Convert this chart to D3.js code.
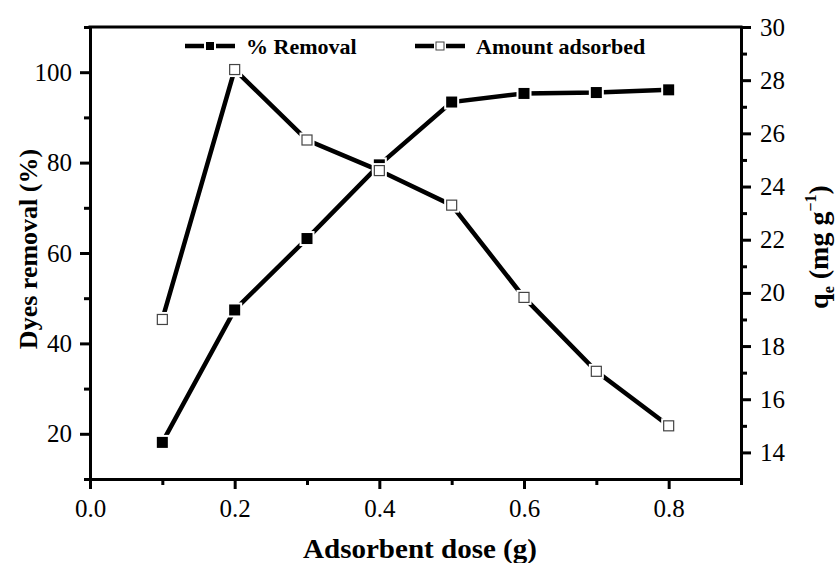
<!DOCTYPE html>
<html>
<head>
<meta charset="utf-8">
<script src="https://cdn.jsdelivr.net/npm/d3@7"></script>
<style>
  body { margin: 0; background: #fff; }
  svg text { font-family: "Times New Roman", "Liberation Serif", "DejaVu Serif", serif; fill: #000; }
  .tick text { font-size: 25px; }
  .title { font-size: 26px; font-weight: bold; }
  .legend text { font-size: 22px; font-weight: bold; }
</style>
</head>
<body>
<svg id="chart"></svg>
<script>
// values
const dose = [0.1, 0.2, 0.3, 0.4, 0.5, 0.6, 0.7, 0.8]
const removal = [18.1, 47.4, 63.2, 79.5, 93.4, 95.3, 95.5, 96.1]
const adsorbed = [19.0, 28.4, 25.75, 24.6, 23.3, 19.83, 17.05, 15.0]

const xTicks = [0.0, 0.2, 0.4, 0.6, 0.8]
const yLeftTicks = [20, 40, 60, 80, 100]
const yRightTicks = [14, 16, 18, 20, 22, 24, 26, 28, 30]

const width = 837
const height = 563
const pLeft = 90, pRight = 741, pTop = 27, pBottom = 479

const svg = d3.select("#chart")
	.attr("width", width)
	.attr("height", height)

let x = d3.scaleLinear().domain([0, 0.9]).range([pLeft, pRight])
let yL = d3.scaleLinear().domain([10, 110]).range([pBottom, pTop])
let yR = d3.scaleLinear().domain([13, 30]).range([pBottom, pTop])

function styleAxis(g) {
	g.select(".domain").attr("stroke", "#000").attr("stroke-width", 3)
	g.selectAll(".tick line").attr("stroke", "#000").attr("stroke-width", 3)
}

// minor ticks first, major axes over them
svg.append("g")
	.attr("transform", "translate(0," + pBottom + ")")
	.call(d3.axisBottom(x).tickValues(d3.range(1, 10, 2).map(d => d / 10)).tickSize(6).tickSizeOuter(0).tickFormat(""))
	.call(styleAxis)

svg.append("g")
	.attr("transform", "translate(" + pLeft + ",0)")
	.call(d3.axisLeft(yL).tickValues([10, 30, 50, 70, 90, 110]).tickSize(6).tickSizeOuter(0).tickFormat(""))
	.call(styleAxis)

svg.append("g")
	.attr("transform", "translate(" + pRight + ",0)")
	.call(d3.axisRight(yR).tickValues(d3.range(15, 30, 2)).tickSize(6).tickSizeOuter(0).tickFormat(""))
	.call(styleAxis)

svg.append("g")
	.attr("transform", "translate(0," + pBottom + ")")
	.call(d3.axisBottom(x).tickValues(xTicks).tickSize(10).tickSizeOuter(0).tickPadding(10).tickFormat(d3.format(".1f")))
	.call(styleAxis)

svg.append("g")
	.attr("transform", "translate(" + pLeft + ",0)")
	.call(d3.axisLeft(yL).tickValues(yLeftTicks).tickSize(10).tickSizeOuter(0).tickPadding(8))
	.call(styleAxis)

svg.append("g")
	.attr("transform", "translate(" + pRight + ",0)")
	.call(d3.axisRight(yR).tickValues(yRightTicks).tickSize(10).tickSizeOuter(0).tickPadding(9))
	.call(styleAxis)

svg.selectAll("g").attr("font-family", null).attr("font-size", null)

// top frame line
svg.append("line")
	.attr("x1", pLeft - 1.5).attr("x2", pRight + 1.5)
	.attr("y1", pTop).attr("y2", pTop)
	.attr("stroke", "#000").attr("stroke-width", 3)

// titles
svg.append("text")
	.attr("class", "title")
	.attr("x", 420)
	.attr("y", 558)
	.attr("text-anchor", "middle")
	.style("font-size", "27px")
	.attr("textLength", 234)
	.attr("lengthAdjust", "spacingAndGlyphs")
	.text("Adsorbent dose (g)")

svg.append("text")
	.attr("class", "title")
	.attr("transform", "translate(37,249) rotate(-90)")
	.attr("text-anchor", "middle")
	.text("Dyes removal (%)")

let rt = svg.append("text")
	.attr("class", "title")
	.attr("transform", "translate(828,247) rotate(-90)")
	.attr("text-anchor", "middle")
	.style("font-size", "28px")
rt.append("tspan").text("q")
rt.append("tspan").attr("font-size", 16).attr("dy", 6).text("e")
rt.append("tspan").attr("dy", -6).text(" (mg g")
rt.append("tspan").attr("font-size", 16).attr("dy", -12).text("\u22121")
rt.append("tspan").attr("dy", 12).text(")")

// series
const removalData = dose.map((d, i) => ({ x: d, y: removal[i] }))
const adsorbedData = dose.map((d, i) => ({ x: d, y: adsorbed[i] }))

svg.append("path")
	.datum(adsorbedData)
	.attr("fill", "none")
	.attr("stroke", "#000")
	.attr("stroke-width", 4.5)
	.attr("d", d3.line().x(d => x(d.x)).y(d => yR(d.y)))

svg.append("path")
	.datum(removalData)
	.attr("fill", "none")
	.attr("stroke", "#000")
	.attr("stroke-width", 4.5)
	.attr("d", d3.line().x(d => x(d.x)).y(d => yL(d.y)))

let s = 11
svg.selectAll("rect.halo-r")
	.data(removalData)
	.enter()
	.append("rect")
		.attr("x", d => x(d.x) - s / 2 - 2)
		.attr("y", d => yL(d.y) - s / 2 - 2)
		.attr("width", s + 4)
		.attr("height", s + 4)
		.attr("fill", "#fff")

svg.selectAll("rect.removal")
	.data(removalData)
	.enter()
	.append("rect")
		.attr("x", d => x(d.x) - s / 2)
		.attr("y", d => yL(d.y) - s / 2)
		.attr("width", s)
		.attr("height", s)
		.attr("fill", "#000")

svg.selectAll("rect.halo-a")
	.data(adsorbedData)
	.enter()
	.append("rect")
		.attr("x", d => x(d.x) - s / 2 - 2)
		.attr("y", d => yR(d.y) - s / 2 - 2)
		.attr("width", s + 4)
		.attr("height", s + 4)
		.attr("fill", "#fff")

svg.selectAll("rect.adsorbed")
	.data(adsorbedData)
	.enter()
	.append("rect")
		.attr("x", d => x(d.x) - s / 2 + 0.5)
		.attr("y", d => yR(d.y) - s / 2 + 0.5)
		.attr("width", s - 1)
		.attr("height", s - 1)
		.attr("fill", "#fff")
		.attr("stroke", "#444")
		.attr("stroke-width", 1.2)

// legend
const legend = [
	{ label: "% Removal", x: 185, filled: true },
	{ label: "Amount adsorbed", x: 415, filled: false }
]
let lg = svg.selectAll("g.legend")
	.data(legend)
	.enter()
	.append("g")
		.attr("class", "legend")
		.attr("transform", d => "translate(" + d.x + ",46)")

lg.append("line")
	.attr("x1", 0).attr("x2", 50)
	.attr("stroke", "#000").attr("stroke-width", 4.5)
lg.append("rect")
	.attr("x", 25 - 6).attr("y", -6)
	.attr("width", 12).attr("height", 12)
	.attr("fill", "#fff")
lg.append("rect")
	.attr("x", 25 - 4).attr("y", -4)
	.attr("width", 8).attr("height", 8)
	.attr("fill", d => d.filled ? "#000" : "#fff")
	.attr("stroke", d => d.filled ? "none" : "#444")
	.attr("stroke-width", 1)
lg.append("text")
	.attr("x", 61)
	.attr("y", 8)
	.text(d => d.label)
</script>
</body>
</html>
